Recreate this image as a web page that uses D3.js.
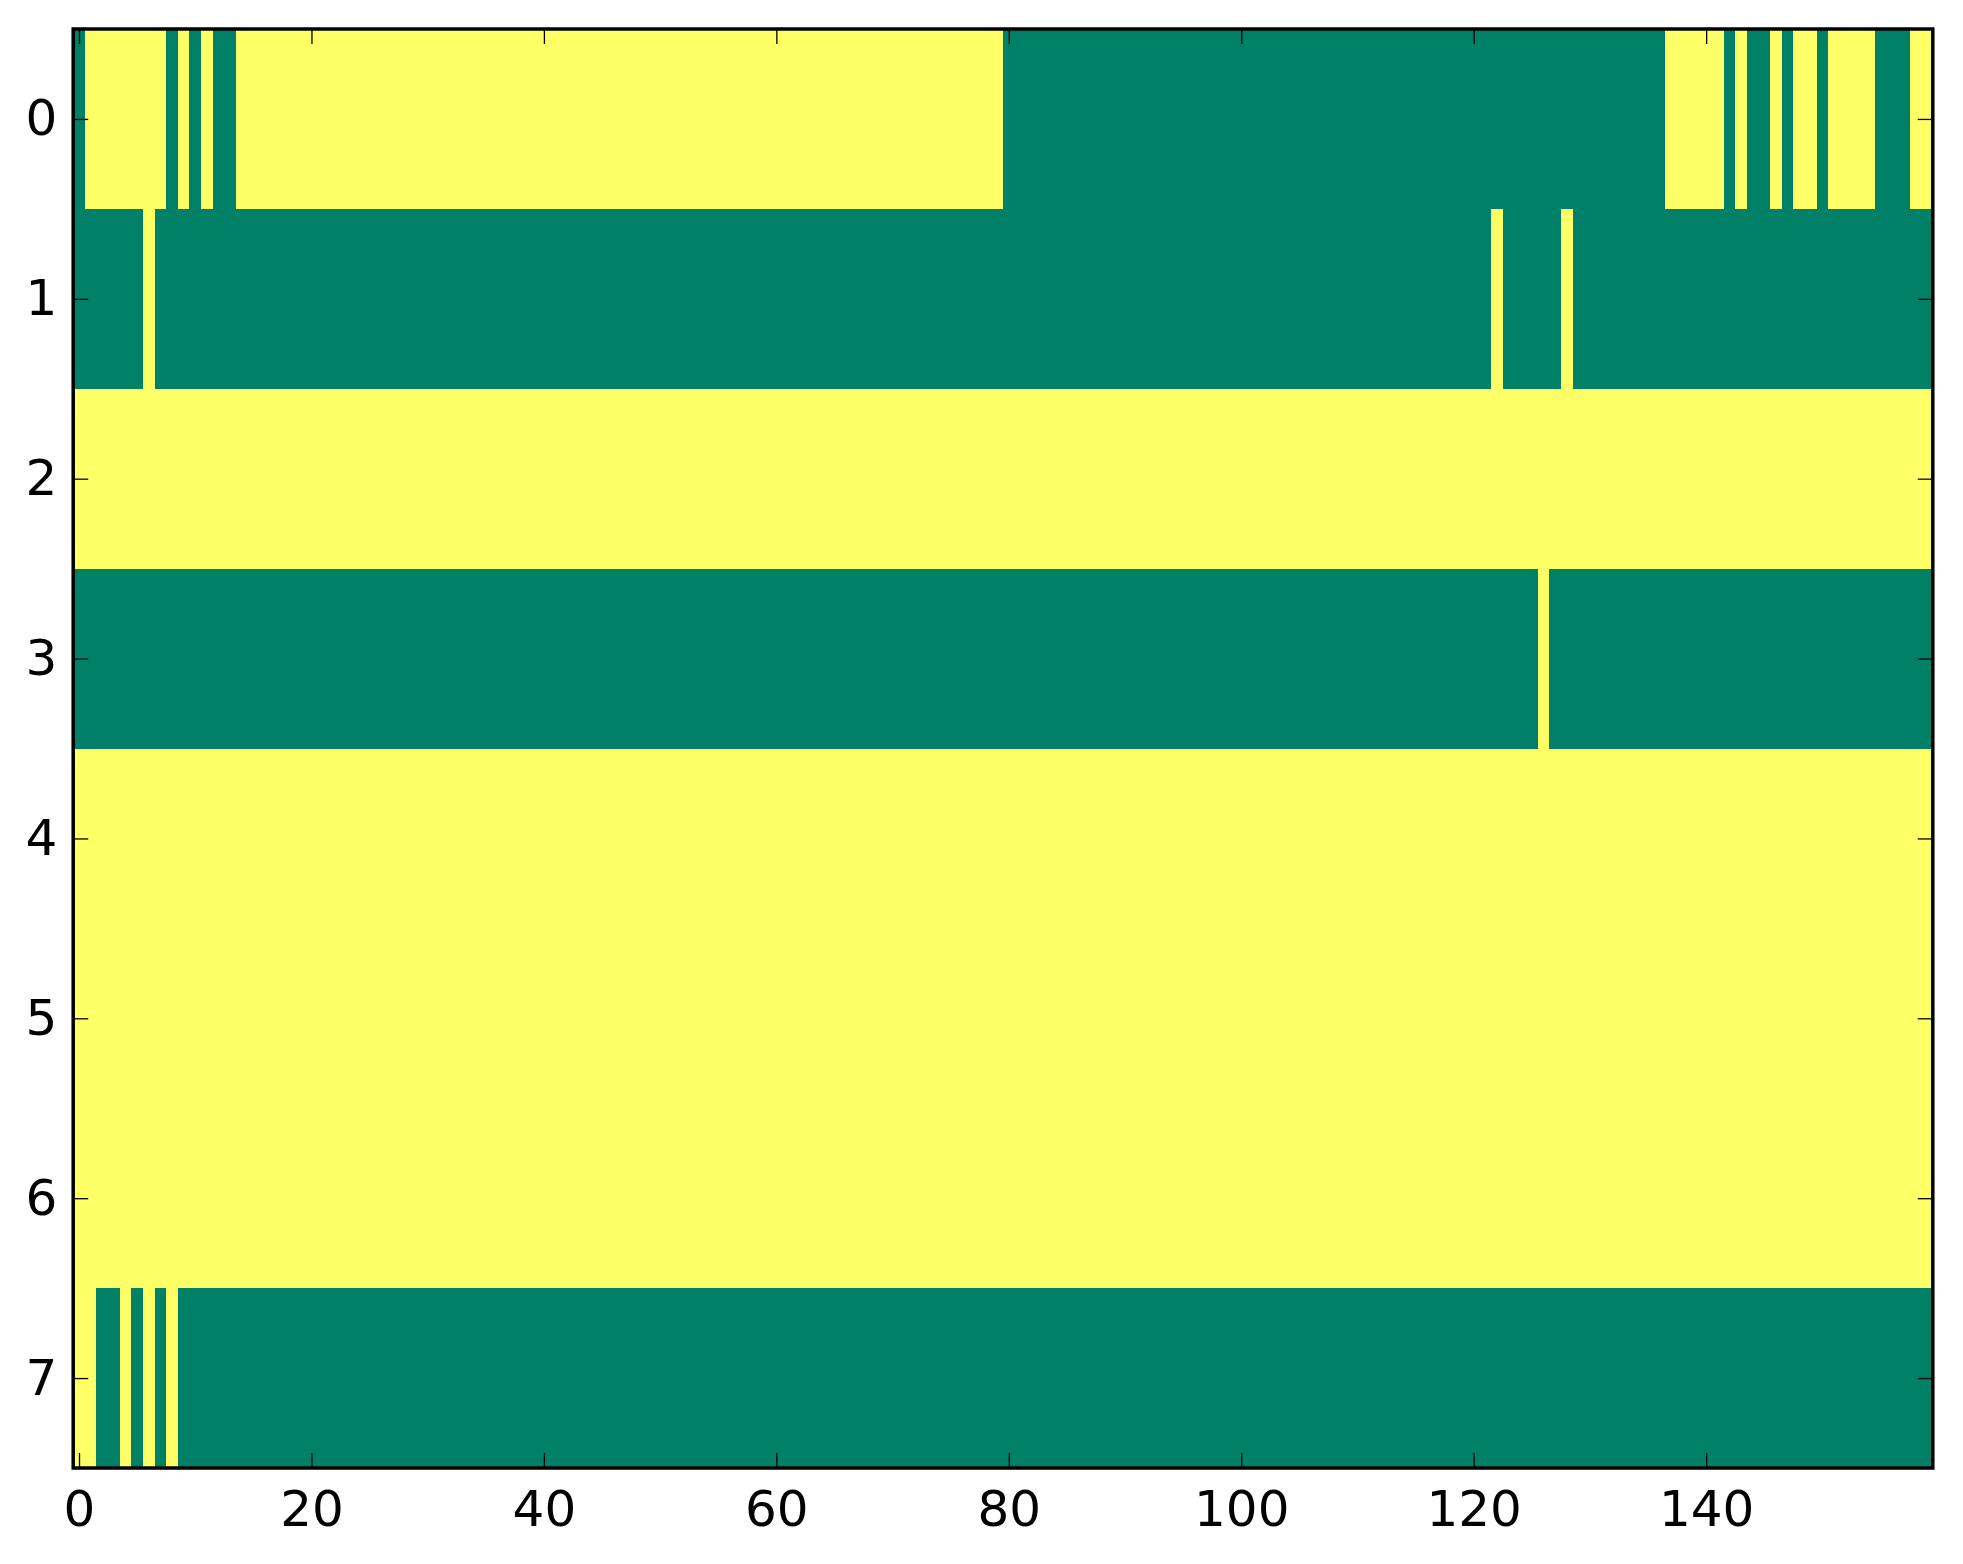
<!DOCTYPE html>
<html>
<head>
    <meta charset="utf-8">
    <title>Binary raster</title>
    <style>
        body { margin: 0; background: #fff; }
        svg { display: block; }
        .tick line { stroke: #000; stroke-width: 1.3px; }
        .tick text { font-family: "DejaVu Sans", sans-serif; font-size: 50px; fill: #000; }
        .frame { fill: none; stroke: #000; stroke-width: 3.5px; }
    </style>
    <script src="https://d3js.org/d3.v7.min.js"></script>
</head>
<body>
<svg id="chart"></svg>
<script>
    // each row as runs of [value, count], read from left to right (160 columns)
    var row0 = [[0,1],[1,7],[0,1],[1,1],[0,1],[1,1],[0,2],[1,66],[0,57],[1,5],[0,1],[1,1],[0,2],[1,1],[0,1],[1,2],[0,1],[1,4],[0,3],[1,2]];
    var row1 = [[0,6],[1,1],[0,115],[1,1],[0,5],[1,1],[0,31]];
    var row2 = [[1,160]];
    var row3 = [[0,126],[1,1],[0,33]];
    var row4 = [[1,160]];
    var row5 = [[1,160]];
    var row6 = [[1,160]];
    var row7 = [[1,2],[0,2],[1,1],[0,1],[1,1],[0,1],[1,1],[0,151]];
    var rows = [row0, row1, row2, row3, row4, row5, row6, row7];

    var xTicks = [0, 20, 40, 60, 80, 100, 120, 140];
    var yTicks = [0, 1, 2, 3, 4, 5, 6, 7];

    //plot box (window.top is read-only, so no "top" here)
    var width = 1963, height = 1564,
        pLeft = 73.2, pRight = 1932.8, pTop = 29, pBottom = 1468,
        svg = d3.select("#chart").attr("width", width).attr("height", height);

    var x = d3.scaleLinear().domain([-0.5, 159.5]).range([pLeft, pRight]),
        y = d3.scaleLinear().domain([-0.5, 7.5]).range([pTop, pBottom]),
        //summer colormap
        color = d3.scaleLinear().domain([0, 1]).range(["#008066", "#ffff66"]);

    //expand runs to cells
    var cells = [];
    rows.forEach(function(runs, r){
        var c = 0;
        runs.forEach(function(run){
            for(var k=0; k<run[1]; k++) cells.push({row: r, col: c++, v: run[0]});
        });
    });

    svg.append("g").selectAll("rect").data(cells).enter()
        .append("rect")
        .attr("x", function(d){ return x(d.col - 0.5); })
        .attr("y", function(d){ return y(d.row - 0.5); })
        .attr("width", function(d){ return x(d.col + 0.5) - x(d.col - 0.5); })
        .attr("height", function(d){ return y(d.row + 0.5) - y(d.row - 0.5); })
        .attr("fill", function(d){ return color(d.v); })
        .attr("shape-rendering", "crispEdges");

    //axes, ticks inside on all sides
    svg.append("g").attr("transform", "translate(0," + pBottom + ")")
        .call(d3.axisBottom(x).tickValues(xTicks).tickSize(-15).tickPadding(22.5))
        .call(function(g){ g.select(".domain").remove(); });
    svg.append("g").attr("transform", "translate(0," + pTop + ")")
        .call(d3.axisTop(x).tickValues(xTicks).tickSize(-15).tickFormat(""))
        .call(function(g){ g.select(".domain").remove(); });
    svg.append("g").attr("transform", "translate(" + pLeft + ",0)")
        .call(d3.axisLeft(y).tickValues(yTicks).tickSize(-15).tickPadding(16))
        .call(function(g){ g.select(".domain").remove(); });
    svg.append("g").attr("transform", "translate(" + pRight + ",0)")
        .call(d3.axisRight(y).tickValues(yTicks).tickSize(-15).tickFormat(""))
        .call(function(g){ g.select(".domain").remove(); });

    svg.append("rect").attr("class", "frame")
        .attr("x", pLeft).attr("y", pTop)
        .attr("width", pRight - pLeft).attr("height", pBottom - pTop);
</script>
</body>
</html>
